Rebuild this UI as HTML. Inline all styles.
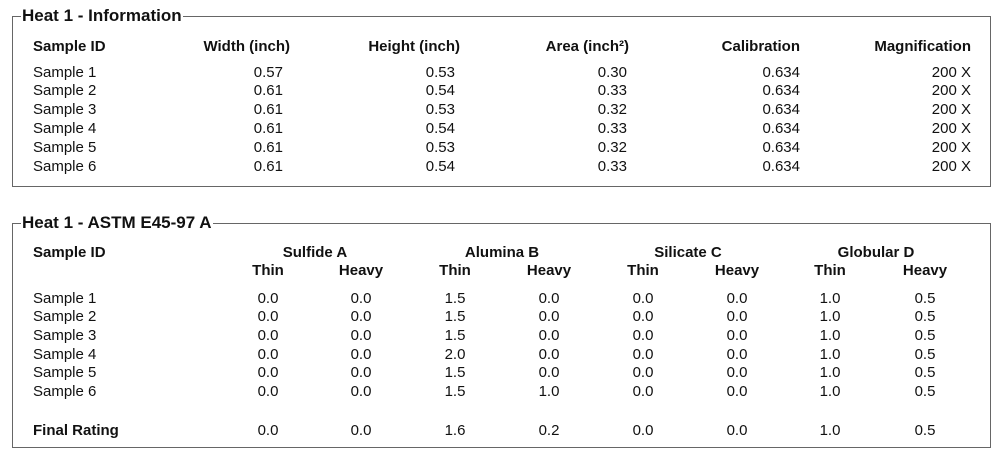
<!DOCTYPE html>
<html><head><meta charset="utf-8"><style>
body{margin:0;width:1000px;height:456px;background:#fff;position:relative;font-family:"Liberation Sans",Arial,sans-serif;font-size:15px;color:#111;overflow:hidden}
.box{position:absolute;border:1px solid #666;border-width:1px;}
.t{position:absolute;line-height:16px;white-space:nowrap;margin-top:1.5px}
.b{font-weight:bold}
.ttl{position:absolute;background:#fff;font-weight:bold;font-size:17px;line-height:18px;padding:0 1px}
.r{text-align:right;width:150px}
.c{text-align:center;width:120px}
</style></head><body>
<div class="box" style="left:12px;top:16px;width:977px;height:169px"></div>
<div class="ttl" style="left:21px;top:7px">Heat 1 - Information</div>
<div class="box" style="left:12px;top:223px;width:977px;height:223px"></div>
<div class="ttl" style="left:21px;top:214px">Heat 1 - ASTM E45-97 A</div>

<div class="t b" style="left:33px;top:37px">Sample ID</div>
<div class="t b r" style="left:140px;top:37px">Width (inch)</div>
<div class="t b r" style="left:310px;top:37px">Height (inch)</div>
<div class="t b r" style="left:479px;top:37px">Area (inch²)</div>
<div class="t b r" style="left:650px;top:37px">Calibration</div>
<div class="t b r" style="left:821px;top:37px">Magnification</div>

<div id="b1"></div>
<div id="b2"></div>
<script>
var rows=[["0.57","0.53","0.30"],["0.61","0.54","0.33"],["0.61","0.53","0.32"],["0.61","0.54","0.33"],["0.61","0.53","0.32"],["0.61","0.54","0.33"]];
var h="";
rows.forEach(function(r,i){var y=63+i*18.8;
h+='<div class="t" style="left:33px;top:'+y+'px">Sample '+(i+1)+'</div>';
h+='<div class="t r" style="left:133px;top:'+y+'px">'+r[0]+'</div>';
h+='<div class="t r" style="left:305px;top:'+y+'px">'+r[1]+'</div>';
h+='<div class="t r" style="left:477px;top:'+y+'px">'+r[2]+'</div>';
h+='<div class="t r" style="left:650px;top:'+y+'px">0.634</div>';
h+='<div class="t r" style="left:821px;top:'+y+'px">200 X</div>';});
document.getElementById("b1").innerHTML=h;
var g=["Sulfide A","Alumina B","Silicate C","Globular D"],gc=[315,502,688,876],cols=[268,361,455,549,643,737,830,925];
h='<div class="t b" style="left:33px;top:243px">Sample ID</div>';
g.forEach(function(n,i){h+='<div class="t b c" style="left:'+(gc[i]-60)+'px;top:243px">'+n+'</div>';});
cols.forEach(function(c,i){h+='<div class="t b c" style="left:'+(c-60)+'px;top:261px">'+(i%2?"Heavy":"Thin")+'</div>';});
var d=[["0.0","0.0","1.5","0.0","0.0","0.0","1.0","0.5"],["0.0","0.0","1.5","0.0","0.0","0.0","1.0","0.5"],["0.0","0.0","1.5","0.0","0.0","0.0","1.0","0.5"],["0.0","0.0","2.0","0.0","0.0","0.0","1.0","0.5"],["0.0","0.0","1.5","0.0","0.0","0.0","1.0","0.5"],["0.0","0.0","1.5","1.0","0.0","0.0","1.0","0.5"]];
d.forEach(function(r,i){var y=289+i*18.7;h+='<div class="t" style="left:33px;top:'+y+'px">Sample '+(i+1)+'</div>';
r.forEach(function(v,j){h+='<div class="t c" style="left:'+(cols[j]-60)+'px;top:'+y+'px">'+v+'</div>';});});
var f=["0.0","0.0","1.6","0.2","0.0","0.0","1.0","0.5"];
h+='<div class="t b" style="left:33px;top:421px">Final Rating</div>';
f.forEach(function(v,j){h+='<div class="t c" style="left:'+(cols[j]-60)+'px;top:421px">'+v+'</div>';});
document.getElementById("b2").innerHTML=h;
</script>
</body></html>
